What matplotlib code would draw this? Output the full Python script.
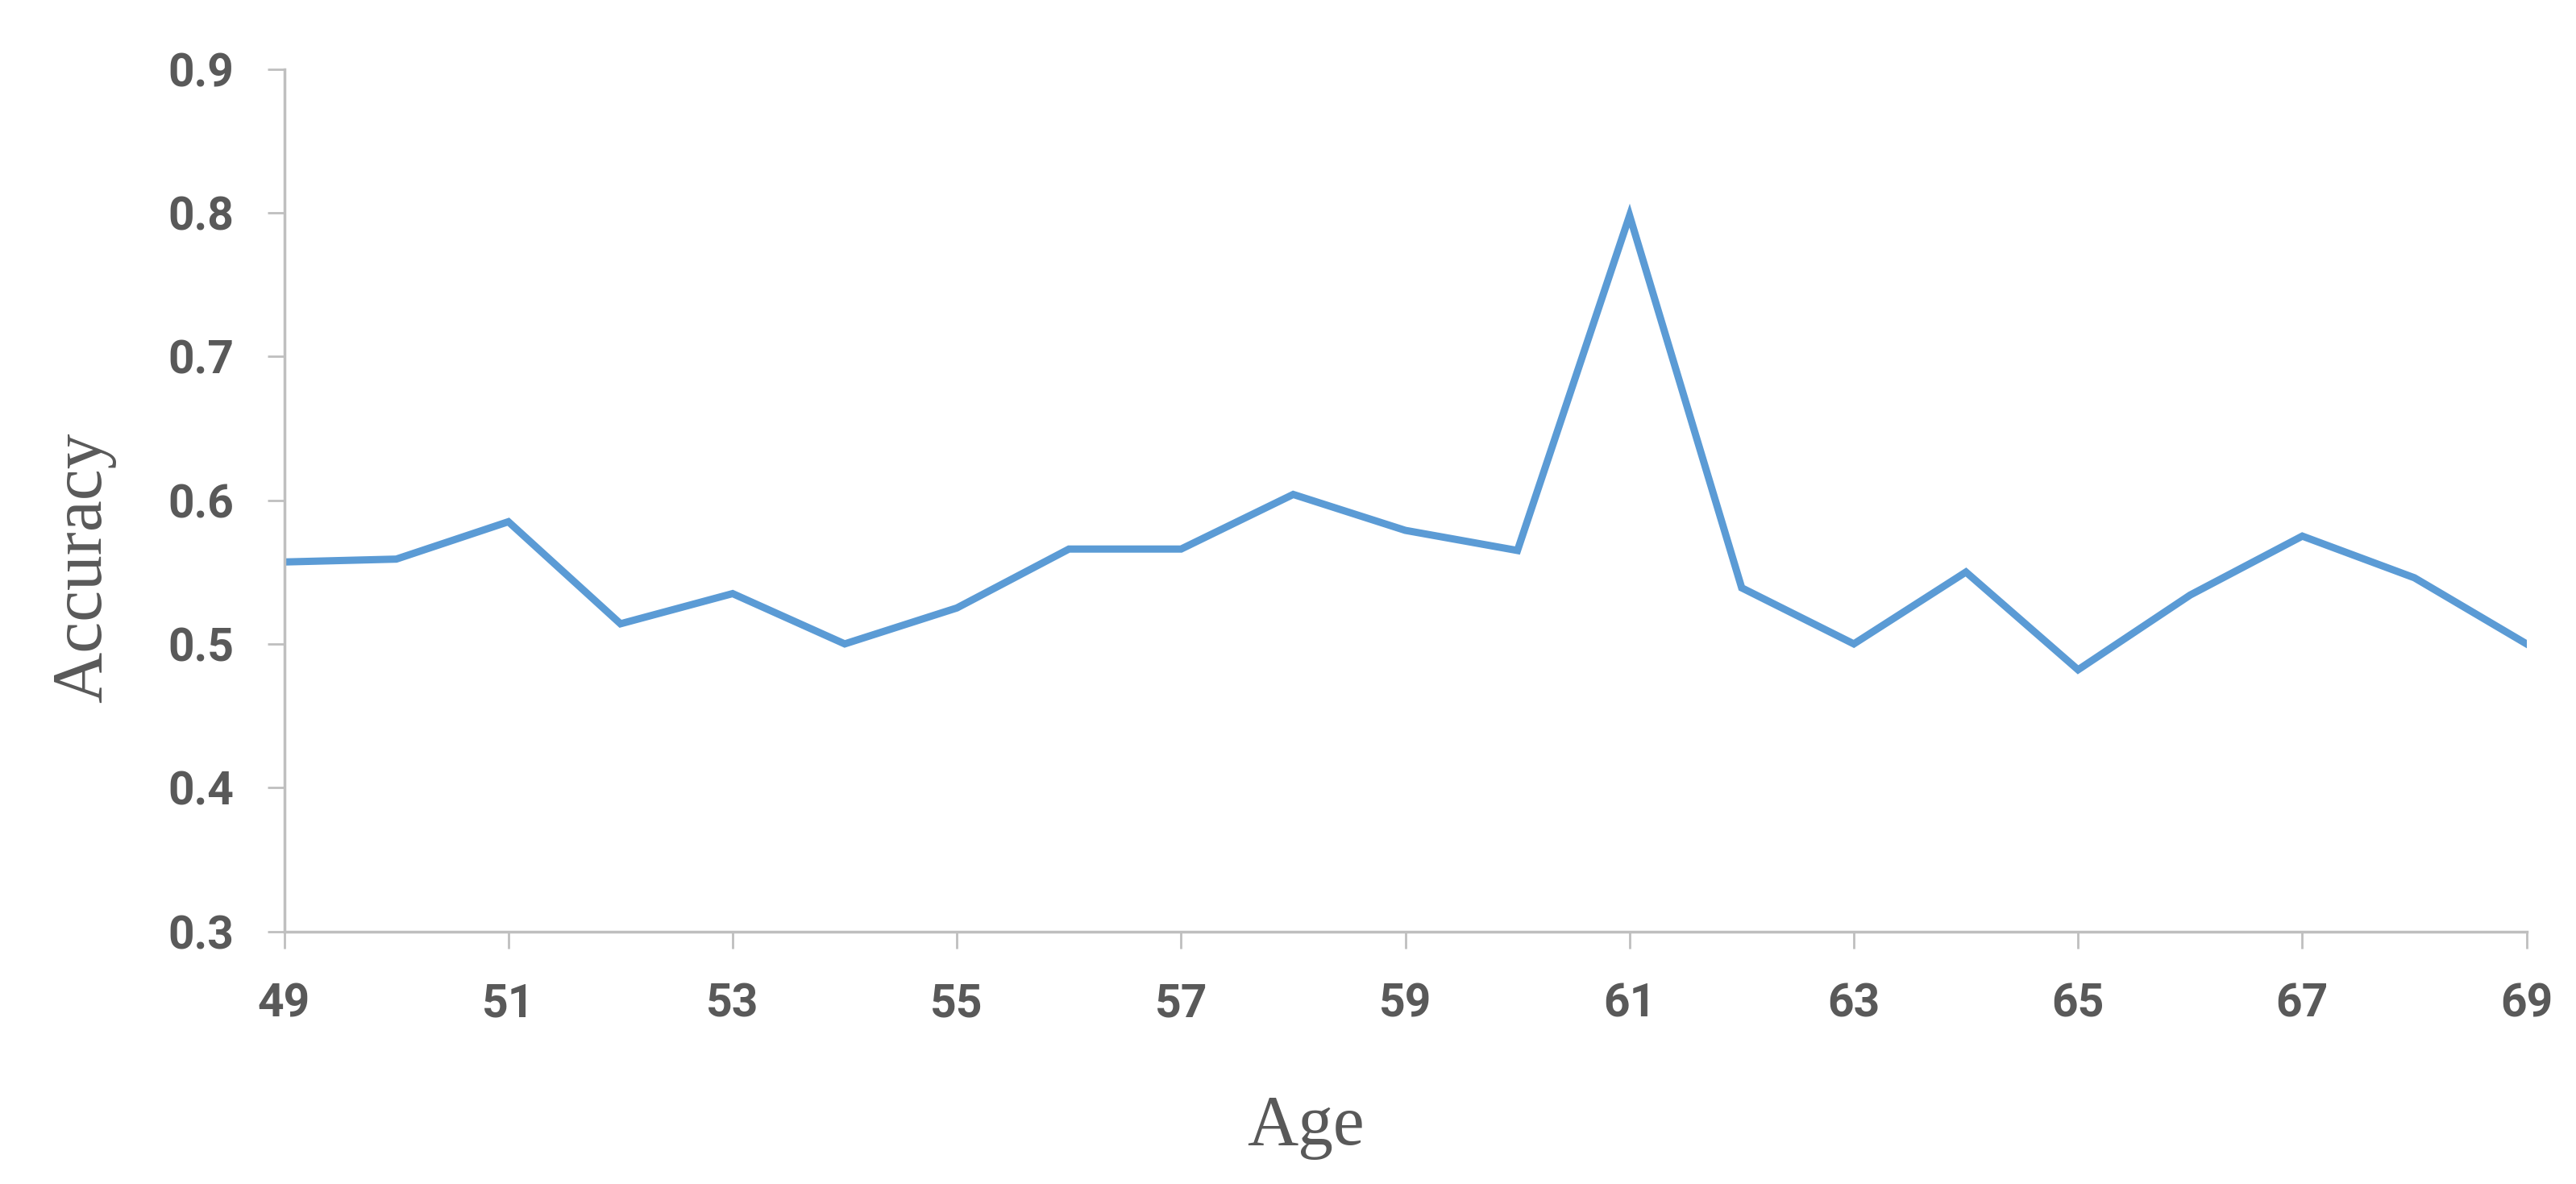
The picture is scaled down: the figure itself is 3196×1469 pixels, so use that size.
import matplotlib
matplotlib.use("Agg")
import matplotlib.pyplot as plt

ages = list(range(49, 70))
accuracy = [0.557, 0.559, 0.585, 0.514, 0.535, 0.500, 0.525, 0.566, 0.566, 0.604,
            0.579, 0.565, 0.798, 0.539, 0.500, 0.550, 0.482, 0.534, 0.575, 0.546, 0.500]
x_ticks = list(range(49, 70, 2))
y_ticks = [0.3, 0.4, 0.5, 0.6, 0.7, 0.8, 0.9]

AXIS_GRAY = "#BFBFBF"
TEXT_GRAY = "#595959"

fig = plt.figure(figsize=(31.96, 14.69), dpi=100)
ax = fig.add_axes([0.1103, 0.2134, 0.8705, 0.7283])

ax.plot(ages, accuracy, color="#5B9BD5", linewidth=6.5, solid_joinstyle="miter")

ax.set_xlim(49, 69)
ax.set_ylim(0.3, 0.9)
ax.set_xticks(x_ticks)
ax.set_yticks(y_ticks)
ax.set_yticklabels(["%.1f" % v for v in y_ticks])

for side in ["top", "right"]:
    ax.spines[side].set_visible(False)
for side in ["left", "bottom"]:
    ax.spines[side].set_color(AXIS_GRAY)
    ax.spines[side].set_linewidth(2.5)

ax.tick_params(axis="both", direction="out", length=15, width=2, color=AXIS_GRAY,
               labelcolor=TEXT_GRAY, labelsize=41, pad=30)
for lab in ax.get_xticklabels() + ax.get_yticklabels():
    lab.set_family(["Roboto", "DejaVu Sans"])
    lab.set_fontweight("bold")

serif = ["Liberation Serif", "DejaVu Serif"]
ax.set_xlabel("Age", fontsize=63, color=TEXT_GRAY, family=serif, va="center")
ax.set_ylabel("Accuracy", fontsize=63, color=TEXT_GRAY, family=serif, va="center")
# the labels in the original sit off-centre
ax.xaxis.set_label_coords(0.4556, -0.2275)
ax.yaxis.set_label_coords(-0.0894, 0.422)

fig.savefig("out.png", dpi=100, facecolor="white")
